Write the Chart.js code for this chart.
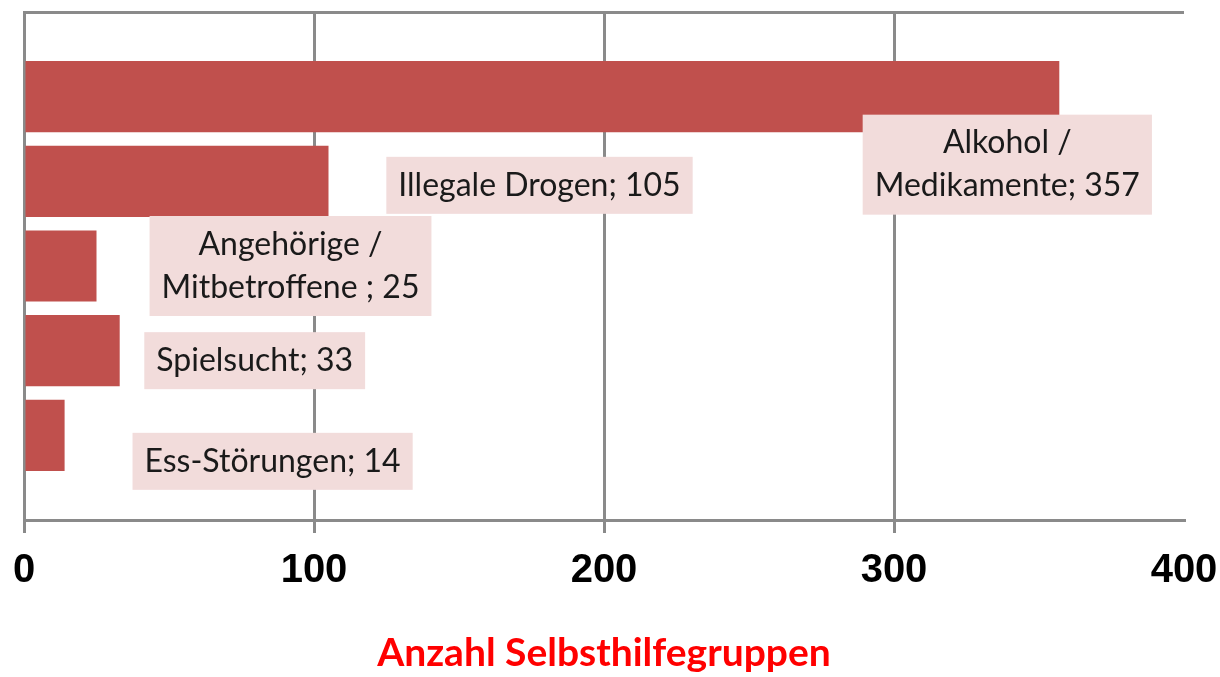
<!DOCTYPE html>
<html>
<head>
<meta charset="utf-8">
<script src="https://cdn.jsdelivr.net/npm/chart.js@4"></script>
<style>
  html, body { margin: 0; padding: 0; background: #fff; }
</style>
</head>
<body>
<canvas id="suchtChart" width="1220" height="677"></canvas>
<script>
// Data
const categories = ['Alkohol /\nMedikamente', 'Illegale Drogen', 'Angehörige /\nMitbetroffene ', 'Spielsucht', 'Ess-Störungen'];
const groupCounts = [357, 105, 25, 33, 14];
const slotPositions = [1, 2, 3, 4, 5];
const xTicks = [0, 100, 200, 300, 400];
const axisTitle = 'Anzahl Selbsthilfegruppen';

// where each pink label box sits, relative to the end of its bar
const labelOffsets = [[-52, 68], [211, 4], [194, 0], [135, 10], [208, 26]];

const gridGray = '#8a8a8a';

const boxLabels = {
    id: 'boxLabels',
    afterDatasetsDraw(chart) {
        const c = chart.ctx;
        const meta = chart.getDatasetMeta(0);
        c.save();
        c.font = '32px Lato, "Open Sans", sans-serif';
        c.textAlign = 'center';
        c.textBaseline = 'middle';
        meta.data.forEach((bar, i) => {
            const lines = (categories[i] + '; ' + groupCounts[i]).split('\n');
            const lh = 43;
            let w = 0;
            lines.forEach(l => { w = Math.max(w, c.measureText(l).width); });
            const bw = w + 24;
            const bh = lines.length * lh + 14;
            const cx = bar.x + labelOffsets[i][0];
            const cy = bar.y + labelOffsets[i][1];
            c.fillStyle = '#f2dcdb';
            c.fillRect(cx - bw / 2, cy - bh / 2, bw, bh);
            c.fillStyle = '#1a1a1a';
            lines.forEach((l, k) => {
                c.fillText(l, cx, cy + (k - (lines.length - 1) / 2) * lh);
            });
        });
        c.restore();
    }
};

new Chart(document.getElementById('suchtChart'), {
    type: 'bar',
    data: {
        datasets: [{
            data: groupCounts.map((v, i) => ({ x: v, y: slotPositions[i] })),
            backgroundColor: '#c0504d',
            borderWidth: 0,
            categoryPercentage: 1,
            barPercentage: 0.84
        }]
    },
    options: {
        indexAxis: 'y',
        responsive: false,
        animation: false,
        layout: { padding: { top: 12, right: 36, left: 24, bottom: 0 } },
        plugins: {
            legend: { display: false },
            tooltip: { enabled: false }
        },
        scales: {
            x: {
                type: 'linear',
                min: 0,
                max: 400,
                afterBuildTicks: s => { s.ticks = xTicks.map(v => ({ value: v })); },
                afterFit: s => { s.height = 157; s.paddingLeft = 0; s.paddingRight = 0; },
                border: { display: true, color: gridGray, width: 3 },
                grid: {
                    color: ctx => ctx.tick && ctx.tick.value === 400 ? 'rgba(0,0,0,0)' : gridGray,
                    lineWidth: 3,
                    tickLength: 13
                },
                ticks: {
                    color: '#000',
                    padding: 14,
                    font: { family: '"Liberation Sans", Arial, sans-serif', size: 40, weight: 'bold' }
                },
                title: {
                    display: true,
                    text: axisTitle,
                    color: '#ff0000',
                    padding: { top: 4, bottom: 0 },
                    font: { family: 'Lato, "Open Sans", sans-serif', size: 39, weight: 'bold' }
                }
            },
            y: {
                type: 'linear',
                reverse: true,
                offset: false,
                min: 0,
                max: 6,
                afterBuildTicks: s => { s.ticks = [{ value: 0 }, { value: 6 }]; },
                afterFit: s => { s.width = 0; },
                border: { display: true, color: gridGray, width: 3 },
                grid: { offset: false, color: gridGray, lineWidth: 3, drawTicks: false },
                ticks: { display: false }
            }
        }
    },
    plugins: [boxLabels]
});
</script>
</body>
</html>
